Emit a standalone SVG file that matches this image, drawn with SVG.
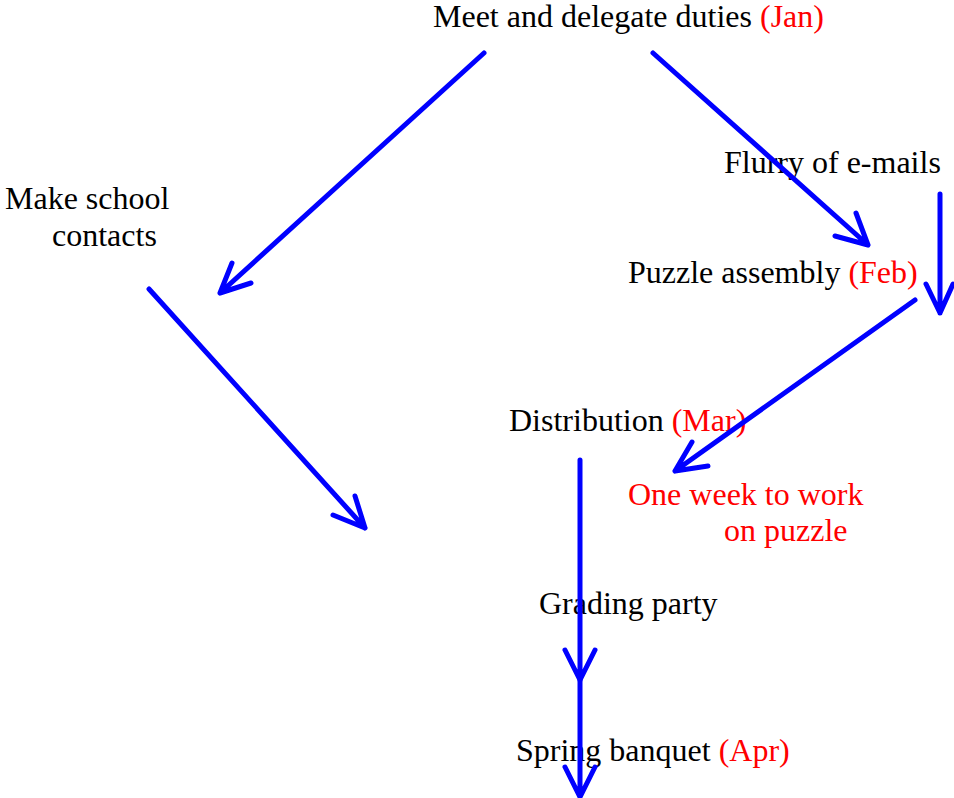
<svg xmlns="http://www.w3.org/2000/svg" width="954" height="798" viewBox="0 0 954 798">
<style>
text{font-family:"Liberation Serif","Times New Roman",serif;font-size:32px;fill:#000}
.r{fill:#ff0000}
.c{stroke:#0000ff;stroke-width:5;fill:none;stroke-linecap:round;stroke-linejoin:round}
</style>
<rect width="954" height="798" fill="#fff"/>
<g id="n-meet"><text x="433" y="27">Meet and delegate duties <tspan class="r">(Jan)</tspan></text></g>
<g id="n-school"><text x="5" y="209">Make school</text><text x="52" y="246">contacts</text></g>
<g id="n-flurry"><text x="724" y="173">Flurry of e-mails</text></g>
<g id="n-puzzle"><text x="628" y="283">Puzzle assembly <tspan class="r">(Feb)</tspan></text></g>
<g id="n-dist"><text x="509" y="431">Distribution <tspan class="r">(Mar)</tspan></text></g>
<g id="n-week"><text class="r" x="628" y="505">One week to work</text><text class="r" x="724" y="541">on puzzle</text></g>
<g id="n-grading"><text x="539" y="614">Grading party</text></g>
<g id="n-banquet"><text x="516" y="761">Spring banquet <tspan class="r">(Apr)</tspan></text></g>
<g id="connectors">
<path class="c" d="M484,53 L220,293 M232,263 L220,293 L251,283"/>
<path class="c" d="M653,53 L868,245 M835,236 L868,245 L856,213"/>
<path class="c" d="M940,194 L940,313 M926,284 L940,313 L953,284"/>
<path class="c" d="M915,300 L675,471 M692,442 L675,471 L708,466"/>
<path class="c" d="M149,289 L365,528 M355,496 L365,528 L333,515"/>
<path class="c" d="M580,460 L580,680 M565,650 L580,680 L595,650"/>
<path class="c" d="M580,680 L580,797 M565,767 L580,797 L595,767"/>
</g>
</svg>
